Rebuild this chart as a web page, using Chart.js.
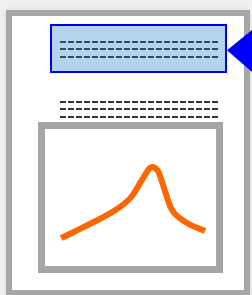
<!DOCTYPE html>
<html lang="en">
<head>
  <meta charset="UTF-8">
  <title>Report page icon</title>
  <script src="https://cdn.jsdelivr.net/npm/chart.js"></script>
  <style>
    body {
      margin: 0;
      width: 252px;
      height: 295px;
      background: #f0f0f0;
      overflow: hidden;
      position: relative;
    }
    .page {
      position: absolute;
      left: 6px; top: 10px;
      width: 244px; height: 286px;
      box-sizing: border-box;
      border: 6px solid #a6a6a6;
      background: #fff;
      box-shadow: 0 0 6px rgba(0,0,0,0.08);
    }
    .note {
      position: absolute;
      left: 50px; top: 24px;
      width: 177px; height: 49px;
      box-sizing: border-box;
      border: 2px solid #0000ff;
      background: #b3d3ec;
    }
    .dash {
      position: absolute;
      left: 60px; width: 158px; height: 2px;
      background: repeating-linear-gradient(90deg, #333 0 6px, transparent 6px 8px);
    }
    .dash.blue {
      background: repeating-linear-gradient(90deg, #2d4a5f 0 6px, transparent 6px 8px);
    }
    .pointer {
      position: absolute;
      left: 227px; top: 30px;
      width: 25px; height: 42px;
      background: #0000ff;
      clip-path: polygon(0 48%, 100% 0, 100% 100%);
    }
    .frame {
      position: absolute;
      left: 38px; top: 122px;
      width: 185px; height: 151px;
      box-sizing: border-box;
      border: 7px solid #a6a6a6;
      background: #fff;
    }
    .frame canvas {
      position: absolute;
      left: 0; top: 0;
    }
  </style>
</head>
<body>

<div class="page"></div>
<div class="note"></div>
<div class="dash blue" style="top:41px"></div>
<div class="dash blue" style="top:48px"></div>
<div class="dash blue" style="top:56px"></div>
<div class="pointer"></div>
<div class="dash" style="top:101px"></div>
<div class="dash" style="top:108px"></div>
<div class="dash" style="top:116px"></div>
<div class="frame"><canvas id="curve" width="171" height="137"></canvas></div>

<script>
  // curve (0-100 across and up the frame)
  const xs = [9.4, 26.3, 43.9, 50.9, 56.7, 62.6, 66.1, 69.6, 73.7, 81.3, 93.6];
  const ys = [20.4, 30.7, 43.1, 51.1, 62.8, 72.3, 69.3, 56.9, 42.3, 32.8, 25.5];

  const points = xs.map((x, i) => ({ x: x, y: ys[i] }));

  new Chart(document.getElementById('curve'), {
    type: 'line',
    data: {
      datasets: [{
        data: points,
        borderColor: '#ff6600',
        borderWidth: 6,
        pointRadius: 0,
        cubicInterpolationMode: 'monotone',
        fill: false
      }]
    },
    options: {
      responsive: false,
      animation: false,
      layout: { padding: 0 },
      plugins: { legend: { display: false }, tooltip: { enabled: false } },
      scales: {
        x: { type: 'linear', min: 0, max: 100, display: false },
        y: { min: 0, max: 100, display: false }
      }
    }
  });
</script>

</body>
</html>
